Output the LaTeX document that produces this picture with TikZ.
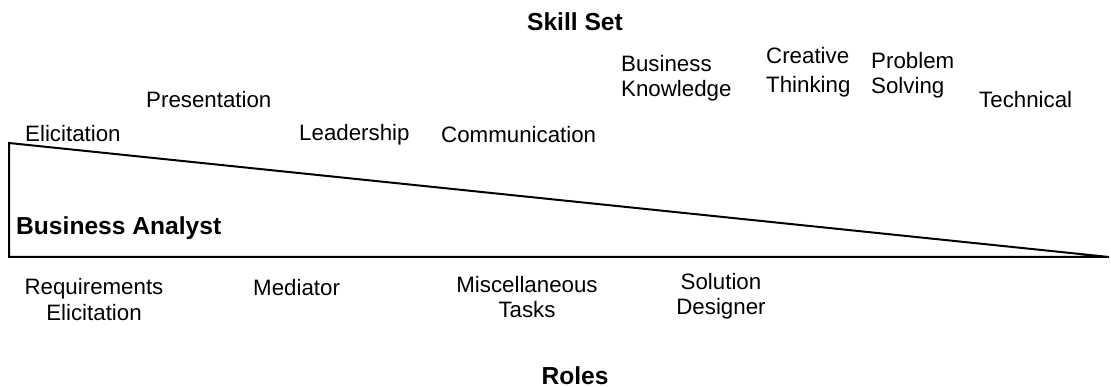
\documentclass[tikz,border=0pt]{standalone}
\usepackage{fontspec}
\setmainfont{Liberation Sans}
\begin{document}
\begin{tikzpicture}[x=1pt,y=-1pt,
    skill/.style={inner sep=0pt,font=\fontsize{22.3}{25}\selectfont},
    heading/.style={inner sep=0pt,font=\fontsize{24.6}{28}\selectfont\bfseries}]
  \useasboundingbox (0,0) rectangle (1111,387);
  % the wedge
  \draw[line width=2pt,line join=miter] (9,143) -- (9,257) -- (1109,257) -- cycle;
  \node[heading,anchor=base] (skillset) at (575,31) {Skill Set};
  \node[heading,anchor=base] (roles) at (575,384) {Roles};
  \node[heading,anchor=base west] (analyst) at (16,235) {Business Analyst};
  % skills
  \node[skill,anchor=base west] (elicit) at (25,142) {Elicitation};
  \node[skill,anchor=base west] (present) at (146,108) {Presentation};
  \node[skill,anchor=base west] (lead) at (299,141) {Leadership};
  \node[skill,anchor=base west] (comm) at (441,143) {Communication};
  \node[skill,anchor=base west,align=left] (bizknow) at (621,97) {Business\\Knowledge};
  \node[skill,anchor=base west,align=left] (creative) at (766,93) {Creative\\[4pt]Thinking};
  \node[skill,anchor=base west,align=left] (problem) at (871,94) {Problem\\Solving};
  \node[skill,anchor=base west] (tech) at (979,108) {Technical};
  % roles
  \node[skill,anchor=base,align=center] (reqelicit) at (94,320) {Requirements\\Elicitation};
  \node[skill,anchor=base west] (mediator) at (253,296) {Mediator};
  \node[skill,anchor=base,align=center] (misc) at (527,318) {Miscellaneous\\Tasks};
  \node[skill,anchor=base,align=center] (soldes) at (721,315) {Solution\\Designer};
\end{tikzpicture}
\end{document}
